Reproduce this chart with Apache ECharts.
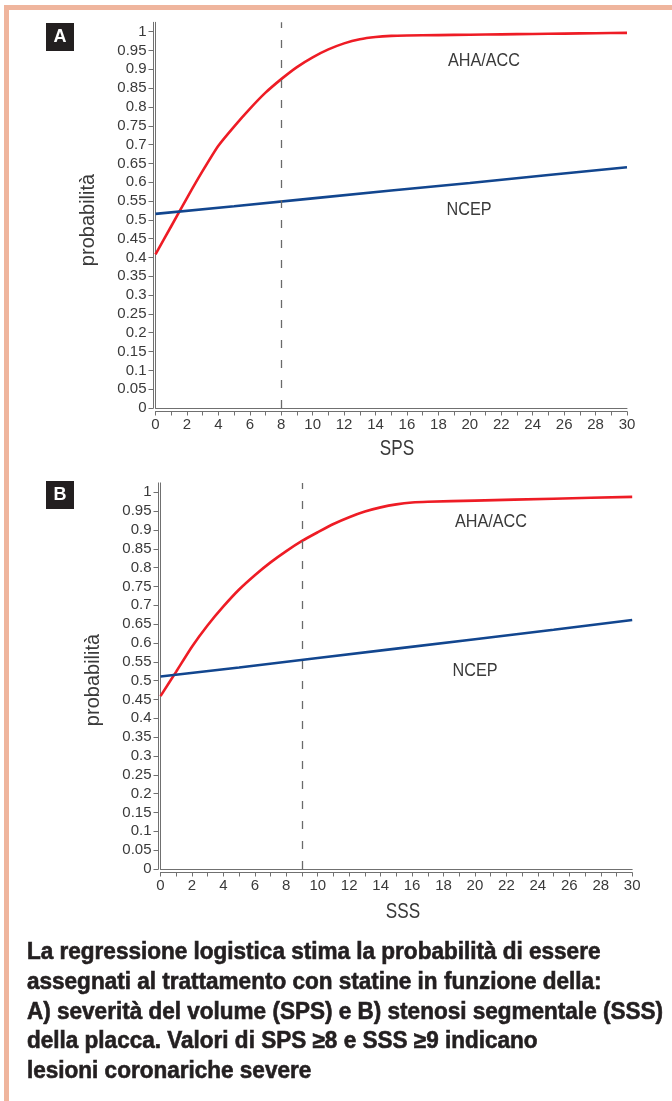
<!DOCTYPE html>
<html>
<head>
<meta charset="utf-8">
<script src="https://cdn.jsdelivr.net/npm/echarts@6/dist/echarts.min.js"></script>
<style>
html,body{margin:0;padding:0;background:#fff;}
#c{width:672px;height:1101px;}
</style>
</head>
<body>
<div id="c"></div>
<script>
// ---- data ----
const xRedA   = [0,1,2,3,4,5,6,7,8,9,10,11,12,13,14,15,16,18,20,22,24,26,28,30];
const redA    = [0.408,0.483,0.558,0.630,0.697,0.748,0.795,0.838,0.874,0.906,0.932,0.953,0.969,0.980,0.986,0.989,0.990,0.991,0.992,0.993,0.994,0.995,0.996,0.997];
const xBlueA  = [0,5,10,15,20,25,30];
const blueA   = [0.516,0.536,0.557,0.578,0.598,0.619,0.640];

const xRedB   = [0,1,2,3,4,5,6,7,8,9,10,11,12,13,14,15,16,17,20,25,30];
const redB    = [0.459,0.524,0.590,0.647,0.697,0.742,0.780,0.814,0.844,0.871,0.894,0.916,0.934,0.949,0.960,0.968,0.973,0.975,0.978,0.983,0.988];
const xBlueB  = [0,5,10,15,20,25,30];
const blueB   = [0.511,0.535,0.560,0.585,0.610,0.635,0.661];

const thresholdA = 8;
const thresholdB = 9;

const yTicks = [0,0.05,0.1,0.15,0.2,0.25,0.3,0.35,0.4,0.45,0.5,0.55,0.6,0.65,0.7,0.75,0.8,0.85,0.9,0.95,1];
const xTicks = [0,1,2,3,4,5,6,7,8,9,10,11,12,13,14,15,16,17,18,19,20,21,22,23,24,25,26,27,28,29,30];
const xLabels = [0,2,4,6,8,10,12,14,16,18,20,22,24,26,28,30];

const seriesNames = ['AHA/ACC','NCEP'];
const yName = 'probabilità';
const xNameA = 'SPS', xNameB = 'SSS';
const panelA = 'A', panelB = 'B';
const caption = [
  'La regressione logistica stima la probabilità di essere',
  'assegnati al trattamento con statine in funzione della:',
  'A) severità del volume (SPS) e B) stenosi segmentale (SSS)',
  'della placca. Valori di SPS ≥8 e SSS ≥9 indicano',
  'lesioni coronariche severe'
];

// ---- style ----
const FONT = "'Liberation Sans',Arial,sans-serif";
const AXIS = '#707070';
const TXT = '#3a3a3a';
const RED = '#ee1c25';
const BLUE = '#12468f';
const PEACH = '#efb59d';

// caption horizontal compression to mimic condensed type
const CAP_FONT = `bold 23px ${FONT}`;
const mctx = document.createElement('canvas').getContext('2d');
mctx.font = CAP_FONT;
const capScale = 636 / mctx.measureText(caption[2]).width;

const pairs = (xs, ys) => xs.map((x, i) => [x, ys[i]]);

function axesFor(gi) {
  const xMain = {
    type: 'value', gridIndex: gi, min: 0, max: 30, position: 'bottom', offset: 3.5,
    axisLine: {show: true, onZero: false, lineStyle: {color: AXIS, width: 1}},
    axisTick: {show: true, customValues: xTicks, length: 4, lineStyle: {color: AXIS}},
    axisLabel: {show: true, customValues: xLabels, color: TXT, fontSize: 15, fontFamily: FONT, margin: 6},
    splitLine: {show: false}
  };
  const xFrame = {
    type: 'value', gridIndex: gi, min: 0, max: 30, position: 'bottom', offset: 0,
    axisLine: {show: true, onZero: false, lineStyle: {color: AXIS, width: 1}},
    axisTick: {show: false}, axisLabel: {show: false}, splitLine: {show: false}
  };
  const yMain = {
    type: 'value', gridIndex: gi, min: 0, max: 1.025, position: 'left', offset: 2,
    axisLine: {show: true, onZero: false, lineStyle: {color: AXIS, width: 1}},
    axisTick: {show: true, customValues: yTicks, length: 5, lineStyle: {color: AXIS}},
    axisLabel: {show: true, customValues: yTicks, color: TXT, fontSize: 15, fontFamily: FONT, margin: 7},
    splitLine: {show: false}
  };
  const yFrame = {
    type: 'value', gridIndex: gi, min: 0, max: 1.025, position: 'left', offset: 0,
    axisLine: {show: true, onZero: false, lineStyle: {color: AXIS, width: 1}},
    axisTick: {show: false}, axisLabel: {show: false}, splitLine: {show: false}
  };
  return {x: [xMain, xFrame], y: [yMain, yFrame]};
}

const aA = axesFor(0), aB = axesFor(1);

function lineSeries(name, data, color, xi, yi, smooth, mark) {
  const s = {
    name, type: 'line', xAxisIndex: xi, yAxisIndex: yi, data,
    showSymbol: false, symbol: 'none', smooth: smooth,
    lineStyle: {color, width: 2.6}, z: 3, silent: true
  };
  if (mark !== undefined) {
    s.markLine = {
      silent: true, symbol: ['none','none'], label: {show: false},
      lineStyle: {color: '#6a6a6a', type: [8, 12], width: 1.3},
      data: [{xAxis: mark}]
    };
  }
  return s;
}

const labelText = (x, y, t, size, sx) => ({
  type: 'text', x, y, scaleX: sx || 1,
  style: {text: t, fill: TXT, font: `${size}px ${FONT}`, align: 'center', verticalAlign: 'middle'}
});

const graphic = [
  {type: 'rect', shape: {x: 4, y: 5, width: 668, height: 5}, style: {fill: PEACH}},
  {type: 'rect', shape: {x: 4, y: 5, width: 5, height: 1096}, style: {fill: PEACH}},
  {type: 'rect', shape: {x: 46, y: 23, width: 28, height: 28}, style: {fill: '#231f20'}},
  {type: 'text', x: 60, y: 37, style: {text: panelA, fill: '#fff', font: `bold 18px ${FONT}`, align: 'center', verticalAlign: 'middle'}},
  {type: 'rect', shape: {x: 46, y: 481, width: 28, height: 28}, style: {fill: '#231f20'}},
  {type: 'text', x: 60, y: 495, style: {text: panelB, fill: '#fff', font: `bold 18px ${FONT}`, align: 'center', verticalAlign: 'middle'}},
  {type: 'text', x: 88, y: 220, rotation: Math.PI / 2,
   style: {text: yName, fill: TXT, font: `20px ${FONT}`, align: 'center', verticalAlign: 'middle'}},
  {type: 'text', x: 93, y: 680, rotation: Math.PI / 2,
   style: {text: yName, fill: TXT, font: `20px ${FONT}`, align: 'center', verticalAlign: 'middle'}},
  labelText(397, 449, xNameA, 22, 0.78),
  labelText(403, 912, xNameB, 22, 0.78),
  labelText(484, 61, seriesNames[0], 18, 0.9),
  labelText(469, 210, seriesNames[1], 18, 0.9),
  labelText(491, 522, seriesNames[0], 18, 0.9),
  labelText(475, 671, seriesNames[1], 18, 0.9),
  {type: 'text', x: 27, y: 938, scaleX: capScale,
   style: {text: caption.join('\n'), fill: '#231f20', stroke: '#231f20', lineWidth: 0.6,
           font: CAP_FONT, lineHeight: 29.75, align: 'left', verticalAlign: 'top'}}
];

const chart = echarts.init(document.getElementById('c'), null, {renderer: 'canvas', width: 672, height: 1101});
chart.setOption({
  animation: false,
  backgroundColor: '#ffffff',
  grid: [
    {left: 155.5, width: 471.5, top: 22.3, height: 385.7},
    {left: 160.5, width: 471.7, top: 482.9, height: 386.1}
  ],
  xAxis: [aA.x[0], aA.x[1], aB.x[0], aB.x[1]],
  yAxis: [aA.y[0], aA.y[1], aB.y[0], aB.y[1]],
  series: [
    lineSeries(seriesNames[0], pairs(xRedA, redA), RED, 0, 0, 0.2, thresholdA),
    lineSeries(seriesNames[1], pairs(xBlueA, blueA), BLUE, 0, 0, false),
    lineSeries(seriesNames[0], pairs(xRedB, redB), RED, 2, 2, 0.2, thresholdB),
    lineSeries(seriesNames[1], pairs(xBlueB, blueB), BLUE, 2, 2, false)
  ],
  graphic
});
</script>
</body>
</html>
